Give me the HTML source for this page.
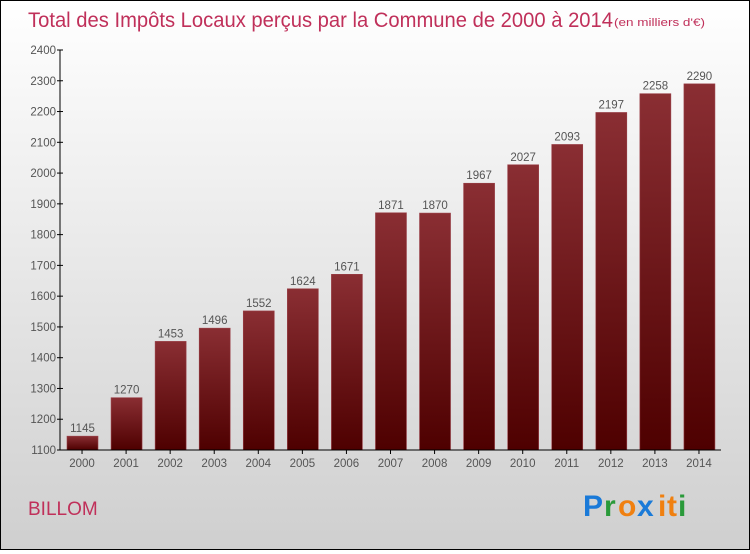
<!DOCTYPE html>
<html><head><meta charset="utf-8"><style>
body{margin:0}
#wrap{width:748px;height:548px;border:1px solid #000;background:linear-gradient(#fff,#cfcfcf);position:relative;font-family:"Liberation Sans",sans-serif}
</style></head><body>
<div id="wrap">
<svg width="748" height="548" id="svg">
<defs><linearGradient id="bg" x1="0" y1="0" x2="0" y2="1"><stop offset="0" stop-color="#8a2e33"/><stop offset="1" stop-color="#4e0000"/></linearGradient></defs>
<text x="27" y="26" font-size="21" fill="#c0305a" textLength="585" lengthAdjust="spacingAndGlyphs">Total des Impôts Locaux perçus par la Commune de 2000 à 2014</text>
<text x="613" y="25" font-size="11" fill="#c0305a" textLength="91" lengthAdjust="spacingAndGlyphs">(en milliers d'€)</text>
<text x="27" y="514" font-size="19" fill="#c0305a">BILLOM</text>
<g font-size="30" font-weight="bold"><text x="582" y="515" fill="#1a7ad8">P</text><text x="603" y="515" fill="#2a9a3a">r</text><text x="617" y="515" fill="#f08010">o</text><text x="636" y="515" fill="#1a7ad8">x</text><text x="657" y="515" fill="#f08010">i</text><text x="666" y="515" fill="#f08010">t</text><text x="677" y="515" fill="#2a9a3a">i</text></g>
<g id="g"></g>
</svg></div>
<script>
const categories=["2000","2001","2002","2003","2004","2005","2006","2007","2008","2009","2010","2011","2012","2013","2014"];
const values=[1145,1270,1453,1496,1552,1624,1671,1871,1870,1967,2027,2093,2197,2258,2290];
const ticks=[1100,1200,1300,1400,1500,1600,1700,1800,1900,2000,2100,2200,2300,2400];
const x0=59,x1=720,yb=449,yt=49,vmin=1100,vmax=2400;
const band=(x1-x0)/categories.length;
const y=v=>yb-(v-vmin)/(vmax-vmin)*(yb-yt);
const g=document.getElementById('g');const NS='http://www.w3.org/2000/svg';
function mk(t,a){const e=document.createElementNS(NS,t);for(const k in a)e.setAttribute(k,a[k]);g.appendChild(e);return e;}
values.forEach((v,i)=>{
const bx=x0+i*band+7;
const r=mk('rect',{x:bx,y:y(v),width:31,height:yb-y(v),fill:'url(#bg)',stroke:'#9a4048','stroke-width':0.6});


const t=mk('text',{x:bx+15.5,y:y(v)-4,'font-size':11.5,'text-anchor':'middle',fill:'#555'});t.textContent=v;


const c=mk('text',{x:x0+i*band+band/2,y:yb+17,'font-size':11.5,'text-anchor':'middle',fill:'#555'});c.textContent=categories[i];


mk('line',{x1:x0+i*band+band/2,x2:x0+i*band+band/2,y1:yb,y2:yb+4,stroke:'#000'});
});
ticks.forEach(v=>{
mk('line',{x1:x0-3,x2:x0+3,y1:y(v),y2:y(v),stroke:'#000'});
const t=mk('text',{x:x0-4,y:y(v)+4,'font-size':11.5,'text-anchor':'end',fill:'#555'});t.textContent=v;


});
const ya=mk('line',{x1:x0,x2:x0,y1:yt,y2:yb,stroke:'#000'});


const xa=mk('line',{x1:x0,x2:x1,y1:yb,y2:yb,stroke:'#000'});


</script>
</body></html>
